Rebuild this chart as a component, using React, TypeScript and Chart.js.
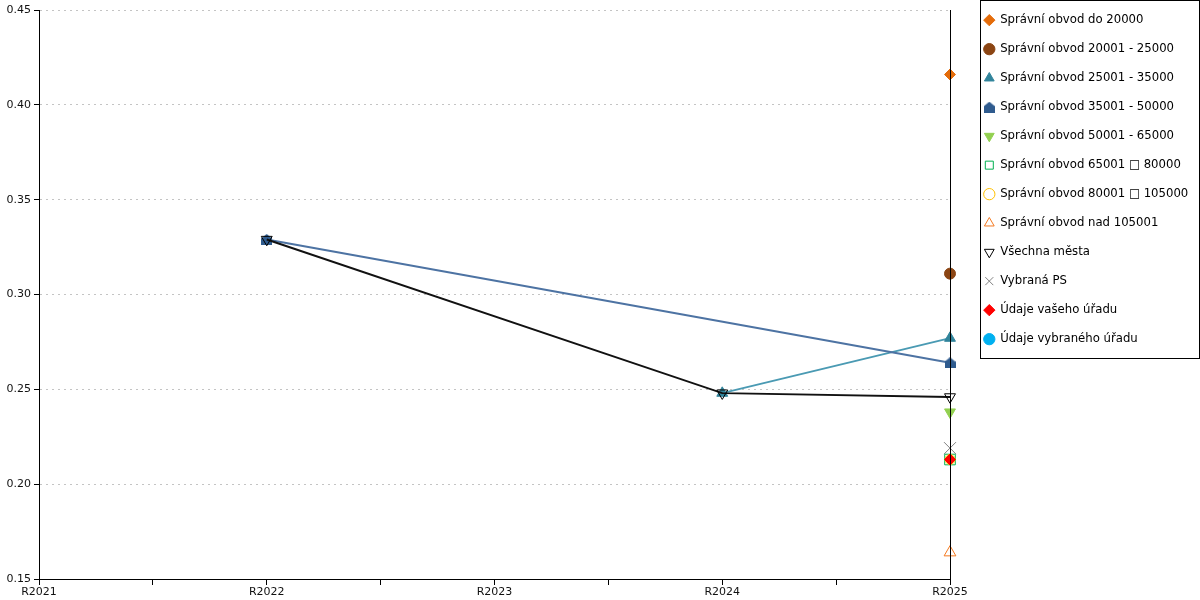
import React, { useEffect, useRef } from 'react';
import { Chart, registerables } from 'chart.js';

Chart.register(...registerables);

const categories = ['R2021', 'R2022', 'R2023', 'R2024', 'R2025'];

const seriesNames = [
  'Správní obvod do 20000',
  'Správní obvod 20001 - 25000',
  'Správní obvod 25001 - 35000',
  'Správní obvod 35001 - 50000',
  'Správní obvod 50001 - 65000',
  'Správní obvod 65001 \u25A1 80000',
  'Správní obvod 80001 \u25A1 105000',
  'Správní obvod nad 105001',
  'Všechna města',
  'Vybraná PS',
  'Údaje vašeho úřadu',
  'Údaje vybraného úřadu',
];

const obvodDo20000 = [null, null, null, null, 0.416];
const obvod20001_25000 = [null, null, null, null, 0.311];
const obvod25001_35000 = [null, null, null, 0.248, 0.277];
const obvod35001_50000 = [null, 0.329, null, null, 0.264];
const obvod50001_65000 = [null, null, null, null, 0.238];
const obvod65001_80000 = [null, null, null, null, 0.213];
const obvod80001_105000 = [null, null, null, null, 0.213];
const obvodNad105001 = [null, null, null, null, 0.164];
const vsechnaMesta = [null, 0.329, null, 0.248, 0.246];
const vybranaPS = [null, null, null, null, 0.219];
const udajeVasehoUradu = [null, null, null, null, 0.213];
const udajeVybranehoUradu = [null, null, null, null, null];

const yMin = 0.15;
const yMax = 0.45;
const yStep = 0.05;

const FONT = 'DejaVu Sans';

export default function App() {
  const ref = useRef<HTMLCanvasElement>(null);

  useEffect(() => {
    const canvas = ref.current!;

    const house = document.createElement('canvas');
    house.width = 11;
    house.height = 11;
    const hc = house.getContext('2d')!;
    hc.fillStyle = '#2F5B8E';
    hc.beginPath();
    hc.moveTo(5.5, 0);
    hc.lineTo(11, 4.5);
    hc.lineTo(11, 11);
    hc.lineTo(0, 11);
    hc.lineTo(0, 4.5);
    hc.closePath();
    hc.fill();

    const seriesValues = [
      obvodDo20000,
      obvod20001_25000,
      obvod25001_35000,
      obvod35001_50000,
      obvod50001_65000,
      obvod65001_80000,
      obvod80001_105000,
      obvodNad105001,
      vsechnaMesta,
      vybranaPS,
      udajeVasehoUradu,
      udajeVybranehoUradu,
    ];

    const looks: any[] = [
      { color: '#E46C0A', ps: 'rectRot', r: 5.5 },
      { color: '#8B4513', ps: 'circle', r: 5.5 },
      { color: '#31849B', line: '#4A9AB3', ps: 'triangle', r: 6.3 },
      { color: '#2F5B8E', line: '#4D73A3', ps: house, r: 6 },
      { color: '#92D050', ps: 'triangle', r: 6.3, rot: 180 },
      { color: '#00B050', ps: 'rect', r: 7.5, hollow: true },
      { color: '#FFC000', ps: 'circle', r: 5, hollow: true },
      { color: '#F47920', ps: 'triangle', r: 6.8, hollow: true },
      { color: '#000000', line: '#111111', ps: 'triangle', r: 6.3, rot: 180, hollow: true },
      { color: '#808080', ps: 'crossRot', r: 8.5 },
      { color: '#FF0000', ps: 'rectRot', r: 5.5 },
      { color: '#00B0F0', ps: 'circle', r: 5.5 },
    ];

    const datasets = seriesValues.map((vals, i) => {
      const o = looks[i];
      return {
        label: seriesNames[i],
        data: vals.map((y, xi) => ({ x: xi, y })),
        borderColor: o.line || o.color,
        borderWidth: 2,
        backgroundColor: o.hollow ? 'rgba(0,0,0,0)' : o.color,
        pointStyle: o.ps,
        pointRadius: o.r,
        pointHoverRadius: o.r,
        pointRotation: o.rot || 0,
        pointBackgroundColor: o.hollow ? 'rgba(0,0,0,0)' : o.color,
        pointBorderColor: o.color,
        pointBorderWidth: 1,
        spanGaps: true,
        clip: false as any,
        order: -i,
        tension: 0,
      };
    });

    const legendFrame = {
      id: 'legendFrame',
      afterInit(chart: any) {
        const lg = chart.legend;
        const orig = lg.fit.bind(lg);
        lg.fit = function () {
          orig();
          lg.width = 233;
        };
      },
      beforeDraw(chart: any) {
        chart.legend.top = -3;
      },
      afterDraw(chart: any) {
        const lg = chart.legend;
        const ctx = chart.ctx;
        const pad = lg.options.labels.padding;
        const boxes = lg.legendHitBoxes;
        const last = boxes[boxes.length - 1];
        const x0 = Math.round(lg.left + pad - 4.3) + 0.5;
        const x1 = Math.round(lg.right) - 0.5;
        const y0 = 0.5;
        const y1 = Math.round(last.top + last.height / 2 - 3 + 19) + 0.5;
        ctx.save();
        ctx.strokeStyle = '#000';
        ctx.lineWidth = 1;
        ctx.strokeRect(x0, y0, x1 - x0, y1 - y0);
        ctx.restore();
      },
    };

    const chart = new Chart(canvas, {
      type: 'line',
      data: { datasets: datasets as any },
      options: {
        animation: false,
        responsive: false,
        layout: { padding: 0 },
        plugins: {
          tooltip: { enabled: false },
          legend: {
            position: 'right',
            align: 'start',
            labels: {
              usePointStyle: true,
              boxWidth: 10,
              boxHeight: 8,
              padding: 17.3,
              color: '#000',
              font: { family: FONT, size: 11.7 },
              sort: (a: any, b: any) => a.datasetIndex - b.datasetIndex,
            },
          },
        },
        scales: {
          x: {
            type: 'linear',
            position: 'bottom',
            min: 0,
            max: categories.length - 1,
            afterFit: (s: any) => {
              s.height = 21;
            },
            ticks: {
              stepSize: 0.5,
              autoSkip: false,
              maxRotation: 0,
              padding: 1,
              color: '#111',
              font: { family: FONT, size: 11 },
              callback: (v: any) => (Number.isInteger(v) ? categories[v] : ''),
            },
            grid: { drawOnChartArea: false, tickLength: 6, color: '#000' },
            border: { color: '#000', width: 1 },
          },
          xTop: {
            type: 'linear',
            position: 'top',
            display: true,
            afterFit: (s: any) => {
              s.height = 10;
            },
            ticks: { display: false },
            grid: { display: false },
            border: { display: false },
          },
          y: {
            type: 'linear',
            position: 'left',
            min: yMin,
            max: yMax,
            afterFit: (s: any) => {
              s.width = 39;
            },
            ticks: {
              stepSize: yStep,
              padding: 3,
              color: '#111',
              font: { family: FONT, size: 11 },
              callback: (v: any) => Number(v).toFixed(2),
            },
            grid: { color: '#c4c4c4', tickColor: '#000', tickLength: 5, lineWidth: 1 },
            border: { color: '#000', width: 1, dash: [2, 4] },
          },
          y2: {
            type: 'linear',
            position: 'right',
            min: yMin,
            max: yMax,
            display: true,
            afterFit: (s: any) => {
              s.width = 17;
            },
            ticks: { display: false },
            grid: { display: false },
            border: { display: true, color: '#000', width: 1, z: 1 },
          },
        },
      } as any,
      plugins: [legendFrame],
    });

    return () => chart.destroy();
  }, []);

  return (
    <div style={{ position: 'absolute', left: 0, top: 0, width: 1200, height: 600, background: '#fff' }}>
      <canvas ref={ref} width={1200} height={600} style={{ width: 1200, height: 600, display: 'block' }} />
    </div>
  );
}
